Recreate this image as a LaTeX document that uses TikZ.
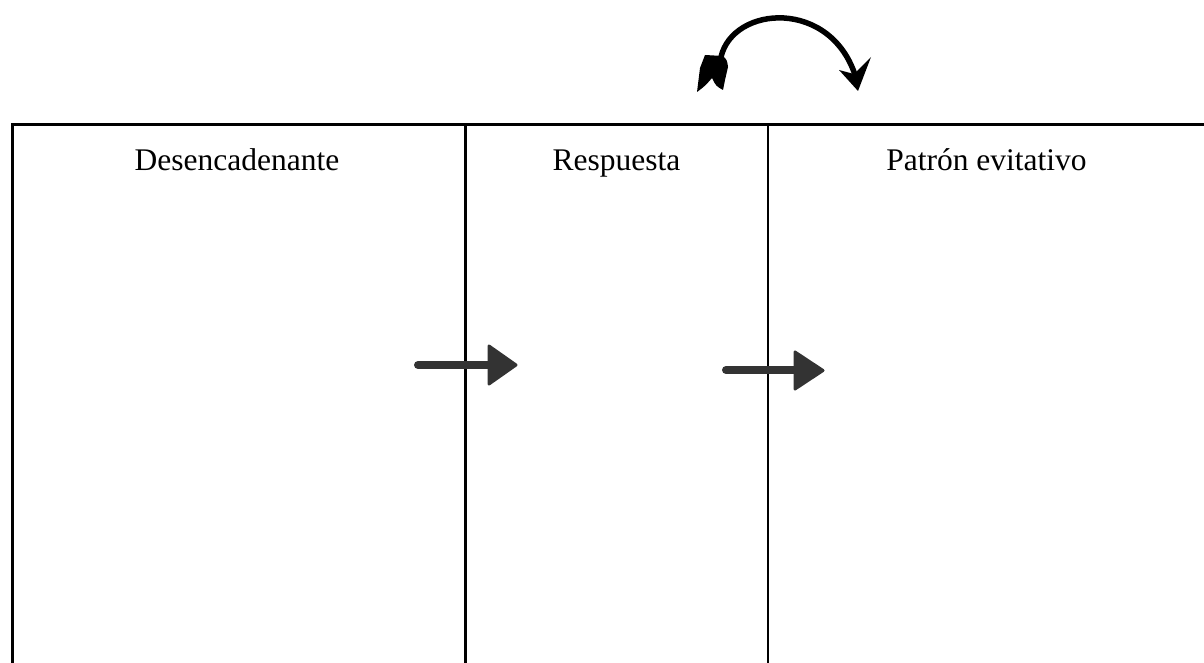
\documentclass[tikz,border=0pt]{standalone}
\usepackage{fontspec}
\setmainfont{Liberation Serif}
\begin{document}
\begin{tikzpicture}[x=1pt,y=-1pt,
  rule/.style={line width=2.8pt,black},
  heading/.style={font=\fontsize{31.5}{36}\selectfont,anchor=base,inner sep=0pt},
  shaft/.style={line width=8pt,line cap=round,color=arrowgray},
  headtri/.style={fill=arrowgray,draw=arrowgray,line width=3pt,line join=round},
]
\definecolor{arrowgray}{HTML}{333333}
\useasboundingbox (0,0) rectangle (1204,663);
% table
\coordinate (tl) at (11,124.5);
\coordinate (tr) at (1204,124.5);
\draw[rule] (tl) -- (tr);
\draw[rule] (12.5,123.5) -- (12.5,663);
\draw[rule] (465.5,123.5) -- (465.5,663);
\draw[rule] (768,123.5) -- (768,663);
% headings
\node[heading] (h1) at (237,170.5) {Desencadenante};
\node[heading] (h2) at (616.5,170.5) {Respuesta};
\node[heading] (h3) at (986.5,170.5) {Patrón evitativo};
% arrow 1
\coordinate (a1s) at (418,365);
\coordinate (a1e) at (490,365);
\draw[shaft] (a1s) -- (a1e);
\fill[headtri] (489,346) -- (516,365) -- (489,384) -- cycle;
% arrow 2
\coordinate (a2s) at (726,370);
\coordinate (a2e) at (796,370);
\draw[shaft] (a2s) -- (a2e);
\fill[headtri] (795,352) -- (823,370.5) -- (795,389) -- cycle;
% curved arrow
\coordinate (cs) at (721,57);
\coordinate (ce) at (856,78);
\draw[line width=5.5pt,black] (cs) .. controls (733,5) and (832,-2) .. (ce);
\fill[black] (858,91) -- (839,70) -- (854,74) -- (871,57) -- cycle;
\fill[black] (705,55) -- (723,56) .. controls (727,60) .. (728,67)
  -- (725,80) -- (723,90) .. controls (716,86) .. (712,78)
  .. controls (705,86) .. (697,92) -- (700,68) -- cycle;
\end{tikzpicture}
\end{document}
